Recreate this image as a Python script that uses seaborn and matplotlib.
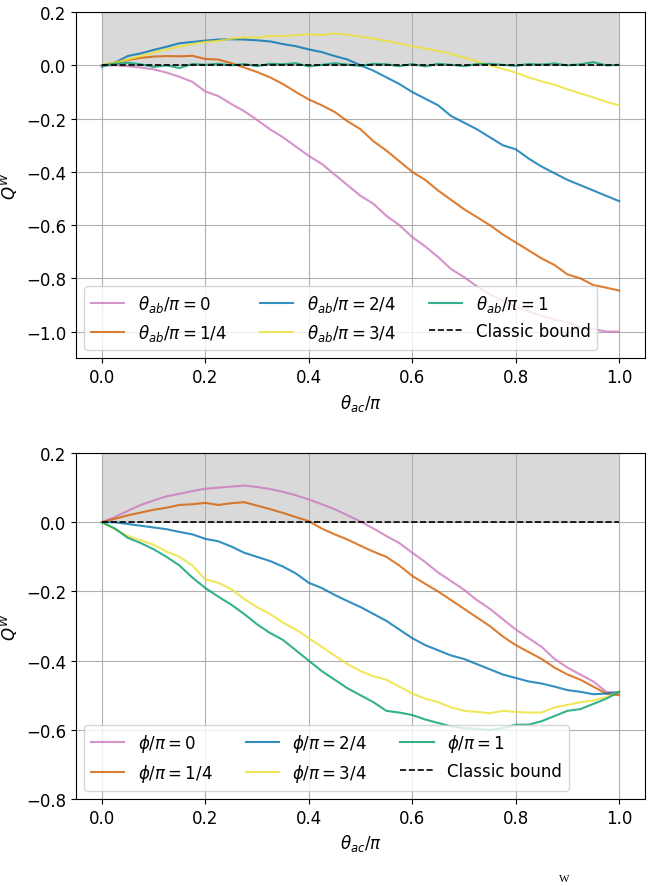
import numpy as np
import pandas as pd
import matplotlib
matplotlib.use('Agg')
import matplotlib.pyplot as plt
import seaborn as sns

# ----------- Data -----------
theta_ac = np.round(np.arange(0, 1.0001, 0.025), 3)

# top panel: Q^W vs theta_ac for several theta_ab
ab_0 = [0.0, 0.0, -0.003, -0.008, -0.015, -0.027, -0.043, -0.062, -0.098, -0.115,
        -0.145, -0.172, -0.205, -0.24, -0.27, -0.305, -0.34, -0.37, -0.41, -0.45,
        -0.49, -0.52, -0.565, -0.60, -0.645, -0.68, -0.72, -0.765, -0.795, -0.83,
        -0.86, -0.885, -0.905, -0.925, -0.94, -0.955, -0.965, -0.985, -0.99, -1.0, -1.0]
ab_1_4 = [0.0, 0.01, 0.02, 0.028, 0.033, 0.035, 0.034, 0.036, 0.024, 0.022,
          0.008, -0.008, -0.025, -0.045, -0.07, -0.1, -0.128, -0.15, -0.175, -0.21,
          -0.24, -0.285, -0.32, -0.36, -0.40, -0.43, -0.47, -0.505, -0.54, -0.57,
          -0.60, -0.635, -0.665, -0.695, -0.725, -0.75, -0.785, -0.8, -0.825, -0.835, -0.846]
ab_2_4 = [-0.005, 0.01, 0.035, 0.045, 0.058, 0.07, 0.083, 0.088, 0.093, 0.097,
          0.098, 0.097, 0.094, 0.09, 0.08, 0.072, 0.06, 0.05, 0.035, 0.022,
          0.0, -0.02, -0.045, -0.07, -0.1, -0.125, -0.15, -0.19, -0.215, -0.24,
          -0.27, -0.3, -0.315, -0.35, -0.38, -0.405, -0.43, -0.45, -0.47, -0.49, -0.51]
ab_3_4 = [0.0, 0.01, 0.022, 0.035, 0.048, 0.06, 0.07, 0.08, 0.088, 0.092,
          0.1, 0.106, 0.104, 0.11, 0.11, 0.113, 0.117, 0.114, 0.12, 0.115,
          0.108, 0.1, 0.092, 0.082, 0.072, 0.063, 0.054, 0.043, 0.03, 0.015,
          0.0, -0.013, -0.027, -0.045, -0.06, -0.073, -0.09, -0.105, -0.12, -0.137, -0.15]
ab_1 = [0.0, 0.005, 0.01, 0.004, -0.006, 0.0, -0.01, 0.005, 0.002, 0.006,
        0.0, 0.005, -0.003, 0.006, 0.004, 0.008, -0.004, 0.002, 0.008, 0.003,
        -0.002, 0.006, 0.004, -0.003, 0.005, -0.004, 0.006, 0.002, -0.003, 0.005,
        0.006, 0.002, -0.002, 0.005, 0.003, 0.007, 0.0, 0.004, 0.012, 0.0, 0.002]

# bottom panel: Q^W vs theta_ac for several phi
phi_0 = [0.0, 0.015, 0.033, 0.05, 0.063, 0.075, 0.082, 0.09, 0.097, 0.1,
         0.103, 0.106, 0.102, 0.096, 0.088, 0.078, 0.066, 0.052, 0.038, 0.02,
         0.002, -0.018, -0.04, -0.06, -0.088, -0.115, -0.145, -0.17, -0.195, -0.225,
         -0.25, -0.28, -0.31, -0.335, -0.36, -0.395, -0.42, -0.44, -0.46, -0.49, -0.495]
phi_1_4 = [0.0, 0.01, 0.02, 0.028, 0.036, 0.042, 0.05, 0.052, 0.056, 0.05,
           0.055, 0.058, 0.048, 0.038, 0.027, 0.015, 0.003, -0.018, -0.035, -0.05,
           -0.068, -0.085, -0.10, -0.125, -0.155, -0.178, -0.2, -0.225, -0.25, -0.275,
           -0.30, -0.33, -0.355, -0.375, -0.395, -0.42, -0.44, -0.455, -0.475, -0.495, -0.50]
phi_2_4 = [0.0, 0.0, -0.005, -0.01, -0.015, -0.02, -0.028, -0.035, -0.048, -0.055,
           -0.07, -0.088, -0.1, -0.112, -0.128, -0.148, -0.175, -0.19, -0.21, -0.228,
           -0.245, -0.265, -0.285, -0.31, -0.335, -0.355, -0.37, -0.385, -0.395, -0.41,
           -0.425, -0.44, -0.45, -0.46, -0.466, -0.475, -0.485, -0.49, -0.497, -0.495, -0.49]
phi_3_4 = [0.0, -0.02, -0.04, -0.052, -0.065, -0.085, -0.1, -0.125, -0.165, -0.175,
           -0.193, -0.222, -0.245, -0.265, -0.29, -0.31, -0.335, -0.36, -0.385, -0.41,
           -0.43, -0.445, -0.455, -0.475, -0.495, -0.51, -0.52, -0.535, -0.545, -0.548,
           -0.552, -0.545, -0.548, -0.55, -0.55, -0.535, -0.528, -0.52, -0.515, -0.505, -0.49]
phi_1 = [0.0, -0.018, -0.045, -0.06, -0.078, -0.1, -0.125, -0.16, -0.19, -0.215,
         -0.238, -0.265, -0.295, -0.32, -0.34, -0.37, -0.4, -0.43, -0.455, -0.48,
         -0.50, -0.52, -0.545, -0.55, -0.557, -0.57, -0.58, -0.59, -0.595, -0.597,
         -0.6, -0.595, -0.585, -0.585, -0.575, -0.56, -0.545, -0.54, -0.525, -0.51, -0.49]

ab_labels = [r'$\theta_{ab}/\pi = 0$', r'$\theta_{ab}/\pi = 1/4$', r'$\theta_{ab}/\pi = 2/4$',
             r'$\theta_{ab}/\pi = 3/4$', r'$\theta_{ab}/\pi = 1$']
phi_labels = [r'$\phi/\pi = 0$', r'$\phi/\pi = 1/4$', r'$\phi/\pi = 2/4$',
              r'$\phi/\pi = 3/4$', r'$\phi/\pi = 1$']

bound_x = [0.0, 1.0]
bound_y = [0.0, 0.0]

# ----------- Style -----------
cb = sns.color_palette('colorblind')
palette = [cb[4], cb[3], cb[0], cb[8], cb[2]]
plt.rcParams['font.size'] = 12
plt.rcParams['font.family'] = ['DejaVu Sans']


def long_df(series, labels):
    frames = []
    for vals, lab in zip(series, labels):
        frames.append(pd.DataFrame({'x': theta_ac, 'y': vals, 'curve': lab}))
    return pd.concat(frames, ignore_index=True)


def draw_panel(ax, df, labels, ylim, yticks):
    ax.fill_between(bound_x, 0.0, ylim[1], color='#d9d9d9', zorder=0, lw=0)
    sns.lineplot(data=df, x='x', y='y', hue='curve', hue_order=labels,
                 palette=palette, linewidth=1.5, alpha=0.8, ax=ax)
    sns.lineplot(x=bound_x, y=bound_y, color='black', linestyle='--',
                 linewidth=1.2, label='Classic bound', ax=ax)
    ax.set_xlim(-0.05, 1.05)
    ax.set_ylim(*ylim)
    ax.set_xticks([0.0, 0.2, 0.4, 0.6, 0.8, 1.0])
    ax.set_yticks(yticks)
    ax.grid(True, color='#b0b0b0', linewidth=0.8)
    ax.set_axisbelow(True)
    ax.set_xlabel(r'$\theta_{ac}/\pi$')
    ax.set_ylabel(r'$Q^W$')
    ax.legend(loc='lower left', ncol=3, fontsize=12)


fig = plt.figure(figsize=(6.52, 8.87), dpi=100)
ax1 = fig.add_axes([0.1166, 0.595, 0.8727, 0.3902])
ax2 = fig.add_axes([0.1166, 0.098, 0.8727, 0.3901])

draw_panel(ax1, long_df([ab_0, ab_1_4, ab_2_4, ab_3_4, ab_1], ab_labels), ab_labels,
           (-1.1, 0.2), [-1.0, -0.8, -0.6, -0.4, -0.2, 0.0, 0.2])
draw_panel(ax2, long_df([phi_0, phi_1_4, phi_2_4, phi_3_4, phi_1], phi_labels), phi_labels,
           (-0.8, 0.2), [-0.8, -0.6, -0.4, -0.2, 0.0, 0.2])

# caption fragment at the bottom edge
fig.text(0.858, 0.003, 'W', fontsize=8, family='Liberation Serif', va='bottom')

fig.savefig('out.png', dpi=100)
